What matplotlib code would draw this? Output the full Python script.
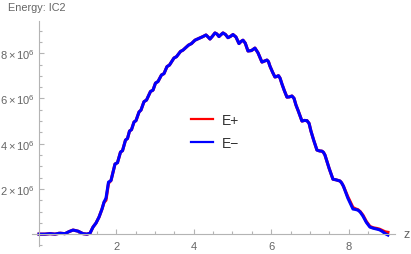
import matplotlib.pyplot as plt
from matplotlib.ticker import MultipleLocator, FixedLocator, FuncFormatter

plt.rcParams['font.family'] = ['Liberation Sans', 'DejaVu Sans']
plt.rcParams['mathtext.fontset'] = 'custom'
plt.rcParams['mathtext.rm'] = 'Liberation Sans'
plt.rcParams['mathtext.it'] = 'Liberation Sans:italic'

# energy vs z, values in units of 1e6
z_vals = [0.00, 0.155, 0.284, 0.413, 0.543, 0.672, 0.775, 0.879, 1.008, 1.137,
          1.240, 1.318, 1.395, 1.473, 1.550, 1.628, 1.680, 1.731, 1.796, 1.860,
          1.964, 2.028, 2.106, 2.158, 2.235, 2.287, 2.339, 2.390, 2.455, 2.506,
          2.584, 2.636, 2.713, 2.778, 2.881, 2.946, 3.010, 3.075, 3.165, 3.230,
          3.307, 3.372, 3.488, 3.553, 3.656, 3.721, 3.863, 3.941, 4.031, 4.121,
          4.238, 4.315, 4.370, 4.419, 4.480, 4.548, 4.600, 4.651, 4.700, 4.755,
          4.820, 4.884, 4.950, 5.013, 5.090, 5.168, 5.220, 5.271, 5.330, 5.401,
          5.490, 5.581, 5.660, 5.762, 5.891, 5.930, 5.969, 6.040, 6.098, 6.140,
          6.189, 6.230, 6.279, 6.340, 6.408, 6.470, 6.537, 6.590, 6.641, 6.700,
          6.796, 6.860, 6.925, 6.980, 7.028, 7.100, 7.183, 7.250, 7.313, 7.350,
          7.390, 7.500, 7.597, 7.680, 7.778, 7.820, 7.868, 7.980, 8.114, 8.180,
          8.243, 8.300, 8.372, 8.460, 8.553, 8.640, 8.734, 8.800, 8.863, 8.950,
          9.018]

e_minus = [0.00, 0.00, 0.02, 0.00, 0.04, 0.02, 0.11, 0.18, 0.13, 0.02,
           0.00, 0.04, 0.31, 0.49, 0.75, 1.11, 1.42, 1.59, 2.30, 2.37,
           3.10, 3.16, 3.63, 3.69, 4.16, 4.23, 4.56, 4.62, 4.96, 5.02,
           5.40, 5.49, 5.86, 5.93, 6.31, 6.37, 6.68, 6.75, 7.04, 7.10,
           7.41, 7.48, 7.79, 7.85, 8.08, 8.14, 8.36, 8.43, 8.58, 8.65,
           8.74, 8.81, 8.72, 8.63, 8.75, 8.90, 8.85, 8.74, 8.82, 8.90,
           8.83, 8.69, 8.75, 8.83, 8.72, 8.43, 8.52, 8.58, 8.45, 8.10,
           8.12, 8.23, 8.02, 7.61, 7.70, 7.63, 7.43, 7.15, 6.95, 6.97,
           7.01, 6.90, 6.64, 6.35, 6.06, 6.07, 6.11, 6.01, 5.71, 5.45,
           5.00, 5.03, 5.02, 4.90, 4.56, 4.15, 3.72, 3.68, 3.67, 3.62,
           3.50, 2.90, 2.43, 2.40, 2.35, 2.27, 2.12, 1.60, 1.11, 1.09,
           1.06, 0.98, 0.80, 0.52, 0.31, 0.26, 0.22, 0.19, 0.13, 0.02,
           -0.04]

e_plus = [0.00, 0.00, 0.02, 0.00, 0.04, 0.02, 0.11, 0.18, 0.13, 0.02,
          0.00, 0.04, 0.31, 0.49, 0.75, 1.11, 1.40, 1.50, 2.25, 2.37,
          3.10, 3.16, 3.63, 3.69, 4.16, 4.23, 4.56, 4.62, 4.96, 5.02,
          5.40, 5.49, 5.86, 5.93, 6.31, 6.37, 6.68, 6.75, 7.04, 7.10,
          7.41, 7.48, 7.79, 7.85, 8.08, 8.14, 8.36, 8.43, 8.58, 8.65,
          8.74, 8.81, 8.72, 8.63, 8.75, 8.90, 8.85, 8.74, 8.82, 8.90,
          8.83, 8.69, 8.75, 8.83, 8.72, 8.43, 8.52, 8.58, 8.45, 8.10,
          8.12, 8.23, 8.02, 7.61, 7.70, 7.63, 7.43, 7.15, 6.95, 6.97,
          7.01, 6.90, 6.64, 6.35, 6.06, 6.07, 6.11, 6.01, 5.71, 5.45,
          5.00, 5.03, 5.02, 4.90, 4.56, 4.15, 3.72, 3.68, 3.67, 3.62,
          3.50, 2.90, 2.43, 2.40, 2.35, 2.27, 2.12, 1.66, 1.18, 1.12,
          1.08, 1.00, 0.84, 0.56, 0.34, 0.28, 0.25, 0.22, 0.17, 0.10,
          0.08]

y_major = [2, 4, 6, 8]
x_major = [2, 4, 6, 8]

axis_col = '#b4b4b4'
text_col = '#656565'

fig = plt.figure(figsize=(4.11, 2.55), dpi=100)
ax = fig.add_axes([0.078, 0.031, 0.883, 0.882])

ax.plot(z_vals, e_plus, color='red', lw=2.2, solid_joinstyle='round', label='E+')
ax.plot(z_vals, e_minus, color='blue', lw=2.2, solid_joinstyle='round', label='E\u2212')

ax.set_xlim(-0.18, 9.2)
ax.set_ylim(-0.53, 9.42)

for s in ['top', 'right']:
    ax.spines[s].set_visible(False)
ax.spines['left'].set_position(('data', 0))
ax.spines['bottom'].set_position(('data', 0))
for s in ['left', 'bottom']:
    ax.spines[s].set_color(axis_col)
    ax.spines[s].set_linewidth(0.8)

ax.xaxis.set_major_locator(FixedLocator(x_major))
ax.xaxis.set_minor_locator(MultipleLocator(0.5))
ax.yaxis.set_major_locator(FixedLocator(y_major))
ax.yaxis.set_minor_locator(MultipleLocator(0.5))
ax.yaxis.set_major_formatter(FuncFormatter(lambda v, p: r'$%d\times10^{6}$' % v))

ax.tick_params(which='both', direction='in', color=axis_col, width=0.8)
ax.tick_params(which='major', length=3.4)
ax.tick_params(which='minor', length=2.2)
ax.tick_params(axis='x', which='major', labelsize=8, labelcolor=text_col, pad=5)
ax.tick_params(axis='y', which='major', labelsize=8, labelcolor=text_col, pad=3)

ax.text(9.42, 0, 'z', color=text_col, fontsize=9, ha='left', va='center', clip_on=False)
fig.text(0.02, 0.968, 'Energy: IC2', color=text_col, fontsize=7.8, ha='left', va='center')

leg = ax.legend(loc='center', bbox_to_anchor=(0.523, 0.48), bbox_transform=fig.transFigure,
                frameon=False, fontsize=10, handlelength=1.6, handletextpad=0.6,
                labelspacing=0.68, borderpad=0)
for line in leg.get_lines():
    line.set_linewidth(1.6)
for t in leg.get_texts():
    t.set_color('#333333')

fig.savefig('out.png', dpi=100)
